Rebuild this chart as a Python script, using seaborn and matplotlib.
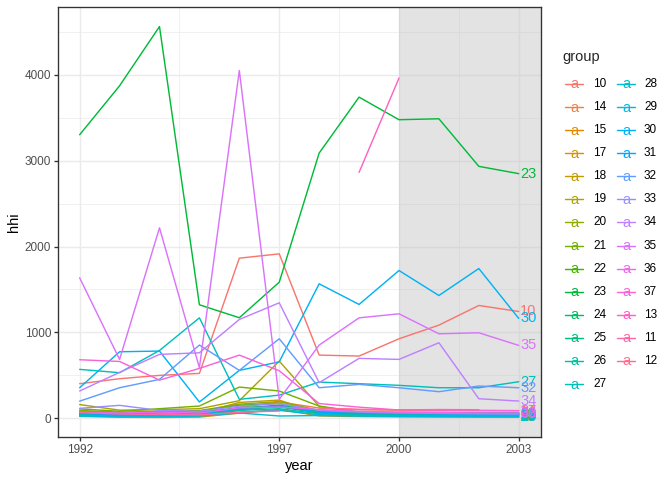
import numpy as np
import pandas as pd
import matplotlib
matplotlib.use("Agg")
import matplotlib.pyplot as plt
import seaborn as sns
from matplotlib.lines import Line2D

nan = np.nan
years = list(range(1992, 2004))

# group order as in the legend (factor levels)
groups = ["10", "14", "15", "17", "18", "19", "20", "21", "22", "23", "24", "25", "26", "27",
          "28", "29", "30", "31", "32", "33", "34", "35", "36", "37", "13", "11", "12"]

g10 = [403, 461, 500, 523, 1865, 1915, 736, 725, 926, 1085, 1314, 1244]
g14 = [45, 30, 25, 35, 130, 190, 120, 100, 95, 92, 90, 88]
g15 = [30, 22, 18, 22, 95, 150, 60, 42, 36, 32, 30, 30]
g17 = [22, 12, 10, 14, 60, 105, 28, 20, 16, 15, 13, 12]
g18 = [38, 26, 32, 62, 185, 212, 62, 32, 26, 22, 18, 16]
g19 = [160, 95, 100, 112, 205, 666, 140, 62, 52, 46, 42, 40]
g20 = [92, 72, 82, 90, 165, 195, 92, 62, 56, 52, 48, 46]
g21 = [110, 82, 112, 143, 364, 318, 143, 72, 62, 57, 55, 52]
g22 = [82, 62, 72, 82, 152, 172, 82, 66, 62, 60, 57, 56]
g23 = [3302, 3872, 4562, 1322, 1171, 1585, 3089, 3740, 3477, 3488, 2934, 2849]
g24 = [70, 52, 62, 72, 122, 152, 82, 72, 70, 68, 66, 64]
g25 = [52, 42, 42, 52, 102, 132, 62, 52, 50, 48, 46, 45]
g26 = [46, 36, 36, 42, 92, 112, 52, 42, 40, 38, 36, 35]
g27 = [570, 531, 790, 1170, 221, 270, 422, 403, 384, 356, 356, 426]
g28 = [26, 20, 20, 26, 62, 27, 32, 26, 24, 22, 21, 20]
g29 = [32, 26, 26, 32, 72, 92, 42, 32, 30, 28, 27, 26]
g30 = [356, 775, 783, 190, 558, 658, 1566, 1326, 1721, 1430, 1744, 1163]
g31 = [56, 42, 46, 52, 112, 142, 72, 56, 54, 52, 50, 48]
g32 = [200, 356, 453, 853, 558, 926, 356, 395, 356, 310, 376, 356]
g33 = [116, 151, 92, 82, 142, 172, 92, 72, 62, 57, 52, 50]
g34 = [318, 535, 744, 763, 1151, 1345, 415, 698, 686, 880, 228, 201]
g35 = [1636, 686, 2218, 589, 4050, 221, 853, 1170, 1217, 984, 996, 849]
g36 = [76, 62, 72, 62, 122, 132, 102, 82, 72, 66, 63, 62]
g37 = [682, 662, 445, 581, 736, 554, 172, 130, 97, 95, 92, 90]
g13 = [nan, nan, nan, nan, nan, nan, nan, 2864, 3962, nan, nan, nan]
g11 = [65, 50, 45, 40, 70, 85, nan, nan, nan, nan, nan, nan]
g12 = [nan, nan, nan, nan, nan, nan, 120, 105, 98, 102, 100, nan]

series = [g10, g14, g15, g17, g18, g19, g20, g21, g22, g23, g24, g25, g26, g27,
          g28, g29, g30, g31, g32, g33, g34, g35, g36, g37, g13, g11, g12]

shade_start = 2000


def hcl(h, c=100.0, l=65.0):
    hr = np.deg2rad(h)
    U, V = c * np.cos(hr), c * np.sin(hr)
    Xn, Yn, Zn = 95.047, 100.0, 108.883
    Y = Yn * ((l + 16) / 116) ** 3
    den = Xn + 15 * Yn + 3 * Zn
    un, vn = 4 * Xn / den, 9 * Yn / den
    u, v = U / (13 * l) + un, V / (13 * l) + vn
    X = 9.0 * Y * u / (4 * v)
    Z = -X / 3 - 5 * Y + 3 * Y / v
    X, Y, Z = X / 100, Y / 100, Z / 100
    r = 3.240479 * X - 1.537150 * Y - 0.498535 * Z
    g = -0.969256 * X + 1.875992 * Y + 0.041556 * Z
    b = 0.055648 * X - 0.204043 * Y + 1.057311 * Z

    def gam(t):
        t = min(1.0, max(0.0, t))
        return 1.055 * t ** (1 / 2.4) - 0.055 if t > 0.0031308 else 12.92 * t
    return (gam(r), gam(g), gam(b))


hues = np.linspace(15, 375, len(groups) + 1)[:-1]
colors = [hcl(h) for h in hues]
palette = dict(zip(groups, colors))

rows = []
for gname, vals in zip(groups, series):
    for yr, v in zip(years, vals):
        if not np.isnan(v):
            rows.append({"year": yr, "hhi": v, "group": gname})
df = pd.DataFrame(rows)

sns.set_style("white")
plt.rcParams["font.family"] = ["Liberation Sans", "DejaVu Sans"]

fig = plt.figure(figsize=(7, 5), dpi=96)
ax = fig.add_axes([57.7 / 672, 43 / 480, (540.7 - 57.7) / 672, (437 - 7) / 480])

xmin, xmax = min(years), max(years)
xpad = (xmax - xmin) * 0.05
ymin, ymax = df["hhi"].min(), df["hhi"].max()
ypad = (ymax - ymin) * 0.05
ax.set_xlim(xmin - xpad, xmax + xpad)
ax.set_ylim(ymin - ypad, ymax + ypad)

# grid
ax.set_xticks([1992, 1997, 2000, 2003])
ax.set_xticks([1994.5, 1998.5, 2001.5], minor=True)
ax.set_yticks([0, 1000, 2000, 3000, 4000])
ax.set_yticks([500, 1500, 2500, 3500, 4500], minor=True)
ax.grid(True, which="major", color="#EBEBEB", lw=1.07, zorder=0)
ax.grid(True, which="minor", color="#EBEBEB", lw=0.53, zorder=0)
ax.set_axisbelow(True)

ax.axvspan(shade_start, xmax + xpad + 1, facecolor="#BEBEBE", alpha=0.42, lw=0, zorder=1)

sns.lineplot(data=df, x="year", y="hhi", hue="group", hue_order=groups, palette=palette,
             estimator=None, sort=True, legend=False, lw=1.07, ax=ax, zorder=2)

for gname, vals in zip(groups, series):
    if not np.isnan(vals[-1]):
        ax.annotate(gname, (years[-1], vals[-1]), xytext=(1.2, 0), textcoords="offset points",
                    color=palette[gname], fontsize=11, ha="left", va="center", zorder=3)

for s in ax.spines.values():
    s.set_color("#333333")
    s.set_linewidth(1.0)
    s.set_visible(True)

ax.tick_params(which="major", length=3.67 * 72 / 96, width=1.0, color="#333333",
               labelsize=8.8, labelcolor="#4D4D4D", pad=2.2, bottom=True, left=True)
ax.tick_params(which="minor", length=0)
ax.set_xticklabels(["1992", "1997", "2000", "2003"])
ax.set_yticklabels(["0", "1000", "2000", "3000", "4000"])
ax.set_xlabel("year", fontsize=11, color="black", labelpad=2.75)
ax.set_ylabel("hhi", fontsize=11, color="black", labelpad=2.75)

# legend (manual)
W, H = 672.0, 480.0
fig.text(562 / W, 1 - 57 / H, "group", fontsize=11, ha="left", va="center")
col_x = [574, 626]
lab_x = [593, 644]
ncol1 = 14
for i, gname in enumerate(groups):
    col = 0 if i < ncol1 else 1
    row = i if i < ncol1 else i - ncol1
    yc = 84 + row * 23.08
    c = palette[gname]
    fig.add_artist(Line2D([(col_x[col] - 9) / W, (col_x[col] + 9) / W],
                          [1 - yc / H, 1 - yc / H], color=c, lw=1.07))
    fig.text(col_x[col] / W, 1 - (yc + 0.5) / H, "a", color=c, fontsize=11,
             ha="center", va="center")
    fig.text(lab_x[col] / W, 1 - yc / H, gname, fontsize=8.8, color="black",
             ha="left", va="center")

fig.savefig("out.png", dpi=96, facecolor="white")
